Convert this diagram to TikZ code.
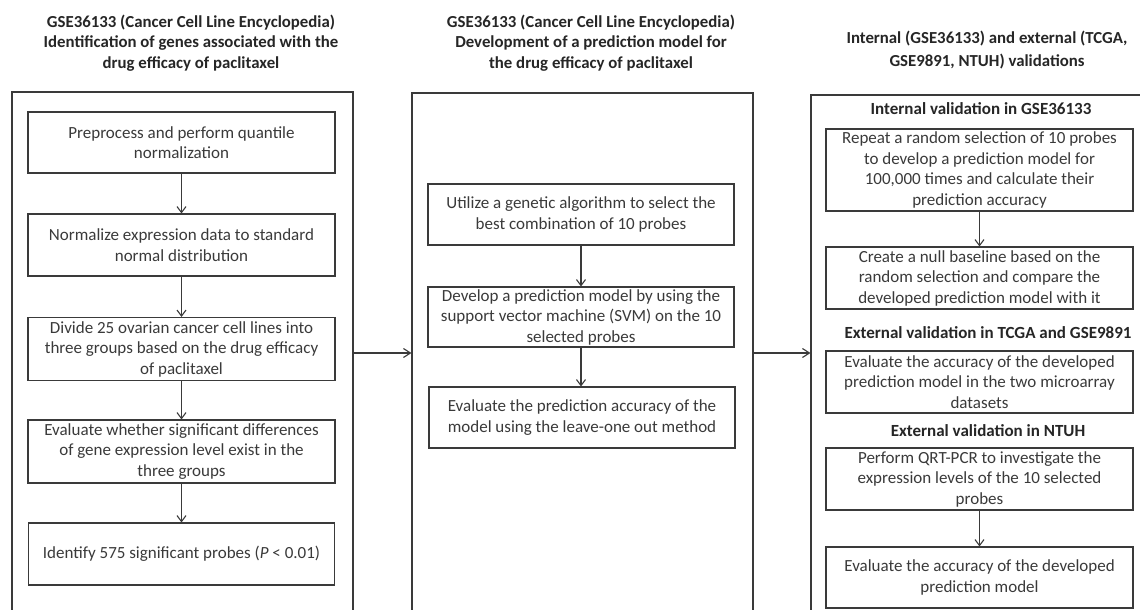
\documentclass[tikz,border=0pt]{standalone}
\usepackage{fontspec}
\setmainfont{Carlito}
\usetikzlibrary{arrows.meta}
\definecolor{ink}{HTML}{3A3A3A}
\definecolor{tink}{HTML}{262626}
\begin{document}
\begin{tikzpicture}[x=1pt,y=-1pt,
  box/.style={draw=ink, line width=1.1pt, rectangle, inner sep=0pt, align=center, text=ink,
    font=\fontsize{17}{20.5}\selectfont},
  frame/.style={draw=ink, line width=1.1pt, rectangle, inner sep=0pt},
  ttl/.style={align=center, text=tink, font=\bfseries\fontsize{16.8}{20.5}\selectfont},
  sub/.style={text=tink, inner sep=0pt, font=\bfseries\fontsize{17}{20}\selectfont},
  arr/.style={draw=ink, line width=1.1pt, -{Straight Barb[length=6pt,width=9pt]}},
  harr/.style={draw=ink, line width=1.1pt, -{Straight Barb[length=7pt,width=9pt]}}]
\useasboundingbox (0,0) rectangle (1140,610);
\fill[white] (0,0) rectangle (1140,610);
\clip (0,0) rectangle (1140,610);

% titles
\node[ttl] (t1) at (191,43) {GSE36133 (Cancer Cell Line Encyclopedia)\\Identification of genes associated with the\\drug efficacy of paclitaxel};
\node[ttl] (t2) at (591,43) {GSE36133 (Cancer Cell Line Encyclopedia)\\Development of a prediction model for\\the drug efficacy of paclitaxel};
\node[ttl, font=\bfseries\fontsize{16.8}{22.5}\selectfont] (t3) at (987,50) {Internal (GSE36133) and external (TCGA,\\GSE9891, NTUH) validations};

% frames (open at the bottom / right, clipped)
\node[frame, minimum width=341pt, minimum height=522pt] (lf) at (182.5,353) {};
\node[frame, minimum width=341pt, minimum height=520pt] (mf) at (582.5,353) {};
\node[frame, minimum width=340pt, minimum height=518pt] (rf) at (981,354) {};

% left column
\node[box, minimum width=307pt, minimum height=61pt] (l1) at (181.5,142.5) {Preprocess and perform quantile\\normalization};
\node[box, minimum width=307pt, minimum height=62pt] (l2) at (181.5,245) {Normalize expression data to standard\\normal distribution};
\node[box, minimum width=307pt, minimum height=63pt] (l3) at (181.5,349) {Divide 25 ovarian cancer cell lines into\\three groups based on the drug efficacy\\of paclitaxel};
\node[box, minimum width=307pt, minimum height=63pt] (l4) at (181.5,451.5) {Evaluate whether significant differences\\of gene expression level exist in the\\three groups};
\node[box, minimum width=306pt, minimum height=62pt] (l5) at (181.5,554) {Identify 575 significant probes (\textit{P} < 0.01)};
\draw[arr] (l1) -- (l2);
\draw[arr] (l2) -- (l3);
\draw[arr] (l3) -- (l4);
\draw[arr] (l4) -- (l5);

% middle column
\node[box, minimum width=306pt, minimum height=61pt] (m1) at (581,214.5) {Utilize a genetic algorithm to select the\\best combination of 10 probes};
\node[box, minimum width=306pt, minimum height=60pt] (m2) at (581,317) {Develop a prediction model by using the\\support vector machine (SVM) on the 10\\selected probes};
\node[box, minimum width=306pt, minimum height=61pt] (m3) at (582,417.5) {Evaluate the prediction accuracy of the\\model using the leave-one out method};
\draw[arr] (m1) -- (m2);
\draw[arr] (m2.south) -- (m2.south |- m3.north);

% right column
\node[sub] (s1) at (981,109) {Internal validation in GSE36133};
\node[box, minimum width=307pt, minimum height=82pt] (r1) at (979.5,170) {Repeat a random selection of 10 probes\\to develop a prediction model for\\100,000 times and calculate their\\prediction accuracy};
\node[box, minimum width=307pt, minimum height=62pt] (r2) at (979.5,278) {Create a null baseline based on the\\random selection and compare the\\developed prediction model with it};
\node[sub] (s2) at (988,333) {External validation in TCGA and GSE9891};
\node[box, minimum width=307pt, minimum height=62pt] (r3) at (979.5,382) {Evaluate the accuracy of the developed\\prediction model in the two microarray\\datasets};
\node[sub] (s3) at (988,431) {External validation in NTUH};
\node[box, minimum width=307pt, minimum height=62pt] (r4) at (979.5,479) {Perform QRT-PCR to investigate the\\expression levels of the 10 selected\\probes};
\node[box, minimum width=307pt, minimum height=61pt] (r5) at (979.5,577.5) {Evaluate the accuracy of the developed\\prediction model};
\draw[arr] (r1) -- (r2);
\draw[arr] (r4) -- (r5);

% connections between panels
\draw[harr] (lf.east) -- (mf.west |- lf.east);
\draw[harr] (mf.east) -- (rf.west |- mf.east);
\end{tikzpicture}
\end{document}
